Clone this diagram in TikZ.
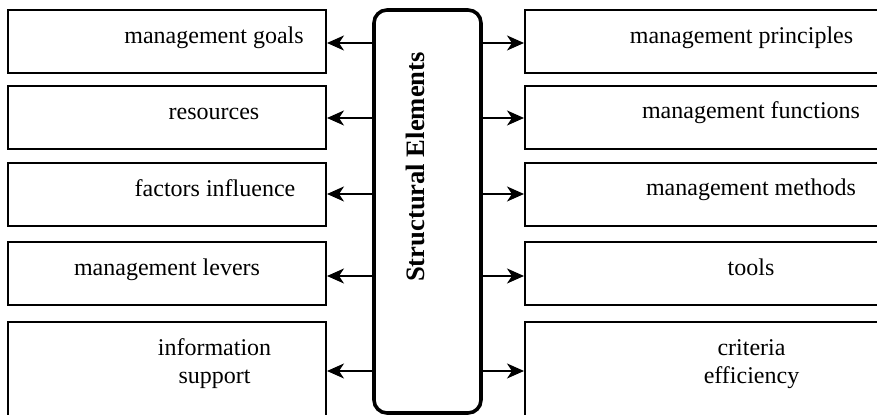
\documentclass[tikz,border=0pt]{standalone}
\usepackage{fontspec}
\setmainfont{Liberation Serif}
\usepackage{tikz}
\usetikzlibrary{arrows.meta}
\usetikzlibrary{positioning}
\tikzset{lbox/.style = {draw, line width = 1pt, inner sep = 0,
                        minimum width = 159pt, minimum height = 31.5pt}}
\tikzset{rbox/.style = {lbox, minimum width = 226pt}}
\tikzset{core/.style = {draw, line width = 1.8pt, rounded corners = 6.5pt, inner sep = 0,
                        minimum width = 53.5pt, minimum height = 201.5pt}}
\tikzset{txt/.style = {anchor = base, inner sep = 0, font = \fontsize{12}{14}\selectfont}}
\tikzset{arr/.style = {line width = 1pt, -{Stealth[length = 8.5pt, width = 7.5pt, inset = 2.5pt]}}}

\begin{document}
\begin{tikzpicture}[x = 0.5pt, y = -0.5pt]
      \clip (0, 0) rectangle (877, 415);

      \node [core] (elements) at (427.5, 211.5) {};
      \node [txt, rotate = 90, font = \fontsize{13.3}{16}\selectfont\bfseries]
            (title) at (424.5, 167) {Structural Elements};

      % left column
      \node [lbox] (goals) at (167, 41.5) {};
      \node [lbox] (resources) at (167, 117.5) {};
      \node [lbox] (factors) at (167, 194.5) {};
      \node [lbox] (levers) at (167, 273.5) {};
      \node [lbox, minimum height = 54pt] (info) at (167, 376) {};

      \node [txt] (tgoals) at (214, 43.5) {management goals};
      \node [txt] (tresources) at (214, 119.5) {resources};
      \node [txt] (tfactors) at (215, 196.5) {factors influence};
      \node [txt] (tlevers) at (167, 276) {management levers};
      \node [txt, anchor = center, align = center] (tinfo) at (214.5, 364) {information\\support};

      % right column
      \node [rbox] (principles) at (751, 41.5) {};
      \node [rbox] (functions) at (751, 117.5) {};
      \node [rbox] (methods) at (751, 194.5) {};
      \node [rbox] (tools) at (751, 273.5) {};
      \node [rbox, minimum height = 54pt] (criteria) at (751, 376) {};

      \node [txt] (tprinciples) at (741.5, 43.5) {management principles};
      \node [txt] (tfunctions) at (751, 119) {management functions};
      \node [txt] (tmethods) at (751, 195.5) {management methods};
      \node [txt] (ttools) at (751, 276) {tools};
      \node [txt, anchor = center, align = center] (tcriteria) at (751.5, 364) {criteria\\efficiency};

      \coordinate (a1) at (0, 43);
      \coordinate (a2) at (0, 118);
      \coordinate (a3) at (0, 194);
      \coordinate (a4) at (0, 276);
      \coordinate (a5) at (0, 371);

      \draw [arr] (elements.west |- a1) -- (goals.east |- a1);
      \draw [arr] (elements.west |- a2) -- (resources.east |- a2);
      \draw [arr] (elements.west |- a3) -- (factors.east |- a3);
      \draw [arr] (elements.west |- a4) -- (levers.east |- a4);
      \draw [arr] (elements.west |- a5) -- (info.east |- a5);

      \draw [arr] (elements.east |- a1) -- (principles.west |- a1);
      \draw [arr] (elements.east |- a2) -- (functions.west |- a2);
      \draw [arr] (elements.east |- a3) -- (methods.west |- a3);
      \draw [arr] (elements.east |- a4) -- (tools.west |- a4);
      \draw [arr] (elements.east |- a5) -- (criteria.west |- a5);
\end{tikzpicture}
\end{document}
